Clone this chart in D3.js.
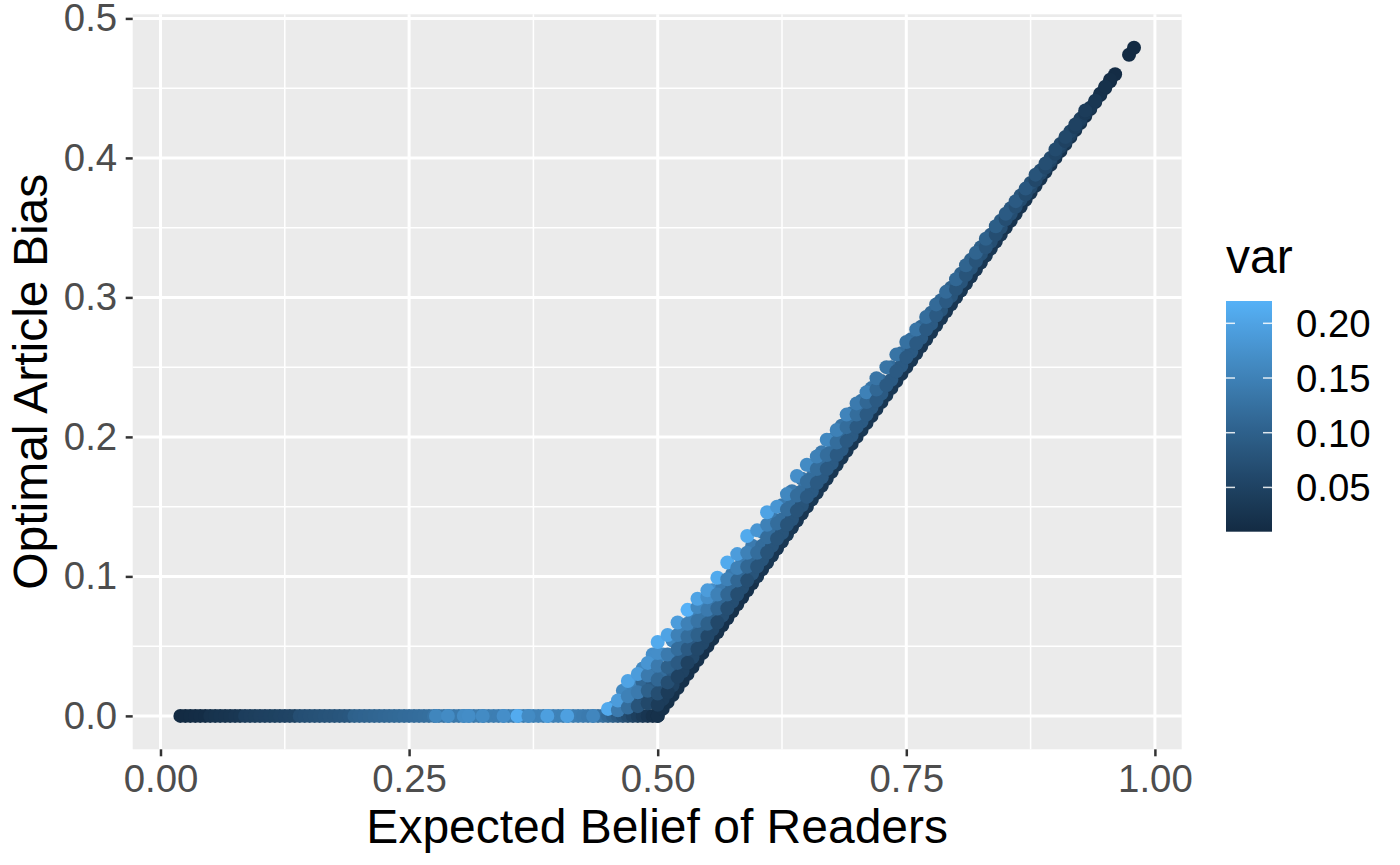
<!DOCTYPE html>
<html>
<head>
<meta charset="utf-8">
<script src="https://cdn.jsdelivr.net/npm/d3@7"></script>
<style>
  body { margin: 0; background: #ffffff; }
  svg text { font-family: "Liberation Sans", Arial, sans-serif; }
</style>
</head>
<body>
<div id="chart"></div>
<script>
// ---- data ----

// points lying on the zero line (bias = 0)
var flatBelief = [
  0.020, 0.025, 0.030, 0.035, 0.040, 0.045, 0.050, 0.055, 0.060, 0.065,
  0.070, 0.075, 0.080, 0.085, 0.090, 0.095, 0.100, 0.105, 0.110, 0.115,
  0.120, 0.125, 0.130, 0.135, 0.140, 0.145, 0.150, 0.155, 0.160, 0.165,
  0.170, 0.175, 0.180, 0.185, 0.190, 0.195, 0.200, 0.205, 0.210, 0.215,
  0.220, 0.225, 0.230, 0.235, 0.240, 0.245, 0.250, 0.255, 0.260, 0.265,
  0.270, 0.275, 0.280, 0.285, 0.290, 0.295, 0.300, 0.305, 0.310, 0.315,
  0.320, 0.325, 0.330, 0.335, 0.340, 0.345, 0.350, 0.355, 0.360, 0.365,
  0.370, 0.375, 0.380, 0.385, 0.390, 0.395, 0.400, 0.405, 0.410, 0.415,
  0.420, 0.425, 0.430, 0.435, 0.440, 0.445, 0.450, 0.455, 0.460, 0.465,
  0.470, 0.475, 0.480, 0.485, 0.490, 0.495, 0.500,
  0.277, 0.289, 0.305, 0.310, 0.324, 0.345, 0.359, 0.370, 0.389, 0.409, 0.435
];
var flatVar = [
  0.0095, 0.010, 0.011, 0.012, 0.013, 0.014, 0.022, 0.023, 0.025, 0.026,
  0.027, 0.029, 0.030, 0.042, 0.043, 0.044, 0.046, 0.047, 0.048, 0.049,
  0.051, 0.052, 0.053, 0.054, 0.070, 0.072, 0.073, 0.075, 0.076, 0.078,
  0.079, 0.080, 0.082, 0.083, 0.085, 0.100, 0.102, 0.104, 0.105, 0.107,
  0.108, 0.110, 0.111, 0.113, 0.114, 0.116, 0.117, 0.118, 0.120, 0.121,
  0.122, 0.130, 0.132, 0.134, 0.135, 0.136, 0.138, 0.139, 0.140, 0.141,
  0.142, 0.143, 0.144, 0.145, 0.146, 0.147, 0.148, 0.149, 0.150, 0.150,
  0.151, 0.151, 0.152, 0.152, 0.152, 0.152, 0.152, 0.151, 0.150, 0.148,
  0.146, 0.143, 0.140, 0.136, 0.130, 0.124, 0.112, 0.100, 0.090, 0.078,
  0.066, 0.055, 0.045, 0.036, 0.028, 0.020, 0.014,
  0.157, 0.165, 0.165, 0.168, 0.165, 0.170, 0.212, 0.165, 0.195, 0.196, 0.158
];

// lower (low variance) edge of the rising branch
var edgeBelief = [
  0.500, 0.505, 0.510, 0.515, 0.520, 0.525, 0.530, 0.535, 0.540, 0.545,
  0.550, 0.555, 0.560, 0.565, 0.570, 0.575, 0.580, 0.585, 0.590, 0.595,
  0.600, 0.605, 0.610, 0.615, 0.620, 0.625, 0.630, 0.635, 0.640, 0.645,
  0.650, 0.655, 0.660, 0.665, 0.670, 0.675, 0.680, 0.685, 0.690, 0.695,
  0.700, 0.705, 0.710, 0.715, 0.720, 0.725, 0.730, 0.735, 0.740, 0.745,
  0.750, 0.755, 0.760, 0.765, 0.770, 0.775, 0.780, 0.785, 0.790, 0.795,
  0.800, 0.805, 0.810, 0.815, 0.820, 0.825, 0.830, 0.835, 0.840, 0.845,
  0.850, 0.855, 0.860, 0.865, 0.870, 0.875, 0.880, 0.885, 0.890, 0.895,
  0.900, 0.905, 0.910, 0.915, 0.920, 0.925, 0.930, 0.935, 0.940, 0.945,
  0.950, 0.955, 0.960, 0.974, 0.979
];
var edgeBias = [
  0.000, 0.005, 0.010, 0.015, 0.020, 0.025, 0.030, 0.035, 0.040, 0.045,
  0.050, 0.055, 0.060, 0.065, 0.070, 0.075, 0.080, 0.085, 0.090, 0.095,
  0.100, 0.105, 0.110, 0.115, 0.120, 0.125, 0.130, 0.135, 0.140, 0.145,
  0.150, 0.155, 0.160, 0.165, 0.170, 0.175, 0.180, 0.185, 0.190, 0.195,
  0.200, 0.205, 0.210, 0.215, 0.220, 0.225, 0.230, 0.235, 0.240, 0.245,
  0.250, 0.255, 0.260, 0.265, 0.270, 0.275, 0.280, 0.285, 0.290, 0.295,
  0.300, 0.305, 0.310, 0.315, 0.320, 0.325, 0.330, 0.335, 0.340, 0.345,
  0.350, 0.355, 0.360, 0.365, 0.370, 0.375, 0.380, 0.385, 0.390, 0.395,
  0.400, 0.405, 0.410, 0.415, 0.420, 0.425, 0.430, 0.435, 0.440, 0.445,
  0.450, 0.455, 0.460, 0.474, 0.479
];
var edgeVar = [
  0.020, 0.020, 0.018, 0.020, 0.022, 0.020, 0.021, 0.020, 0.022, 0.020,
  0.021, 0.020, 0.022, 0.020, 0.021, 0.020, 0.022, 0.021, 0.020, 0.022,
  0.030, 0.028, 0.030, 0.031, 0.029, 0.030, 0.032, 0.030, 0.029, 0.031,
  0.030, 0.032, 0.030, 0.029, 0.031, 0.030, 0.032, 0.030, 0.029, 0.031,
  0.030, 0.032, 0.030, 0.029, 0.031, 0.030, 0.032, 0.030, 0.029, 0.031,
  0.030, 0.032, 0.030, 0.029, 0.031, 0.030, 0.032, 0.030, 0.029, 0.031,
  0.030, 0.032, 0.030, 0.029, 0.031, 0.030, 0.032, 0.030, 0.029, 0.031,
  0.025, 0.026, 0.025, 0.024, 0.025, 0.026, 0.025, 0.024, 0.025, 0.026,
  0.025, 0.024, 0.025, 0.024, 0.023, 0.022, 0.014, 0.014, 0.013, 0.014,
  0.013, 0.012, 0.012, 0.0095, 0.0095
];

// in-between columns (half steps) that fill the body of the band
var fillBelief = [
  0.455, 0.465, 0.475, 0.485, 0.495, 0.505, 0.515, 0.525, 0.535, 0.545,
  0.555, 0.565, 0.575, 0.585, 0.595, 0.605, 0.615, 0.625, 0.635, 0.645,
  0.655, 0.665, 0.675, 0.685, 0.695, 0.705, 0.715, 0.725, 0.735, 0.745,
  0.755, 0.765, 0.775, 0.785, 0.795, 0.805, 0.815, 0.825, 0.835, 0.845,
  0.855, 0.865, 0.875, 0.885, 0.895, 0.905, 0.915, 0.925, 0.935, 0.945,
  0.955
];
var fillBias = [
  [0.006], [0.008, 0.018], [0.010, 0.022], [0.012, 0.024, 0.034],
  [0.010, 0.022, 0.034, 0.044], [0.012, 0.022, 0.032, 0.044],
  [0.022, 0.032, 0.042, 0.054], [0.032, 0.042, 0.052, 0.062],
  [0.042, 0.052, 0.062, 0.072], [0.052, 0.062, 0.072, 0.080],
  [0.062, 0.072, 0.082, 0.090], [0.072, 0.082, 0.092],
  [0.082, 0.092, 0.102], [0.092, 0.102, 0.112], [0.102, 0.112, 0.122],
  [0.112, 0.122, 0.132], [0.122, 0.132, 0.142], [0.131, 0.141, 0.151],
  [0.141, 0.151, 0.161], [0.151, 0.161, 0.170], [0.161, 0.171, 0.179],
  [0.171, 0.181, 0.189], [0.181, 0.190, 0.198], [0.191, 0.200, 0.208],
  [0.201, 0.210, 0.217], [0.211, 0.219, 0.226], [0.221, 0.229, 0.235],
  [0.231, 0.240], [0.241, 0.250], [0.251, 0.260], [0.261, 0.270],
  [0.271, 0.279], [0.281, 0.289], [0.291, 0.298], [0.301, 0.307],
  [0.311, 0.317], [0.321, 0.327], [0.331, 0.336], [0.340, 0.345],
  [0.350, 0.355], [0.360, 0.364], [0.370, 0.373], [0.379, 0.382],
  [0.389, 0.391], [0.398, 0.400], [0.408, 0.410], [0.417, 0.419],
  [0.427, 0.428], [0.436], [0.446], [0.456]
];
var fillVar = [
  [0.17], [0.10, 0.16], [0.09, 0.15], [0.07, 0.11, 0.16],
  [0.05, 0.09, 0.13, 0.17], [0.04, 0.08, 0.12, 0.16],
  [0.05, 0.09, 0.12, 0.16], [0.05, 0.09, 0.12, 0.15],
  [0.06, 0.09, 0.12, 0.15], [0.06, 0.10, 0.13, 0.16],
  [0.06, 0.10, 0.14, 0.17], [0.07, 0.11, 0.14],
  [0.07, 0.11, 0.14], [0.07, 0.11, 0.14], [0.08, 0.11, 0.14],
  [0.08, 0.12, 0.15], [0.08, 0.12, 0.14], [0.08, 0.12, 0.14],
  [0.08, 0.12, 0.14], [0.08, 0.12, 0.14], [0.09, 0.12, 0.14],
  [0.09, 0.12, 0.14], [0.09, 0.12, 0.14], [0.09, 0.12, 0.13],
  [0.09, 0.12, 0.13], [0.09, 0.12, 0.13], [0.09, 0.11, 0.13],
  [0.09, 0.12], [0.09, 0.12], [0.09, 0.12], [0.09, 0.12],
  [0.09, 0.11], [0.09, 0.11], [0.08, 0.11], [0.08, 0.10],
  [0.08, 0.10], [0.08, 0.10], [0.075, 0.095], [0.07, 0.09],
  [0.07, 0.09], [0.07, 0.085], [0.065, 0.08], [0.06, 0.075],
  [0.06, 0.07], [0.055, 0.065], [0.05, 0.06], [0.045, 0.055],
  [0.04, 0.045], [0.03], [0.02], [0.015]
];

// stacked columns above the edge: one belief per column, bias/var per point
var columnBelief = [
  0.45, 0.46, 0.47, 0.48, 0.49, 0.50, 0.51, 0.52, 0.53, 0.54,
  0.55, 0.56, 0.57, 0.58, 0.59, 0.60, 0.61, 0.62, 0.63, 0.64,
  0.65, 0.66, 0.67, 0.68, 0.69, 0.70, 0.71, 0.72, 0.73, 0.74,
  0.75, 0.76, 0.77, 0.78, 0.79, 0.80, 0.81, 0.82, 0.83, 0.84,
  0.85, 0.86, 0.87, 0.88, 0.89, 0.90, 0.91, 0.92, 0.93, 0.94,
  0.95
];
var columnBias = [
  [0.005], [0.004, 0.011], [0.006, 0.014, 0.025], [0.007, 0.017, 0.030],
  [0.009, 0.018, 0.029, 0.038], [0.008, 0.016, 0.026, 0.036, 0.045, 0.053],
  [0.017, 0.024, 0.035, 0.044, 0.058], [0.028, 0.038, 0.048, 0.058, 0.067],
  [0.038, 0.048, 0.057, 0.066, 0.076], [0.048, 0.058, 0.068, 0.078, 0.084],
  [0.057, 0.066, 0.076, 0.085, 0.090], [0.067, 0.077, 0.087, 0.099],
  [0.077, 0.087, 0.098, 0.110], [0.087, 0.097, 0.106, 0.116],
  [0.097, 0.107, 0.117, 0.129], [0.107, 0.117, 0.133],
  [0.117, 0.128, 0.137, 0.146], [0.127, 0.138, 0.150],
  [0.137, 0.148, 0.159], [0.147, 0.158, 0.172],
  [0.157, 0.168, 0.180], [0.167, 0.177, 0.186],
  [0.177, 0.187, 0.198], [0.187, 0.196, 0.205],
  [0.197, 0.207, 0.216], [0.207, 0.216, 0.224],
  [0.216, 0.225, 0.232], [0.226, 0.234, 0.242],
  [0.237, 0.250], [0.247, 0.259], [0.257, 0.268], [0.267, 0.277],
  [0.277, 0.286], [0.287, 0.295], [0.297, 0.304], [0.306, 0.313],
  [0.316, 0.323], [0.326, 0.332], [0.336, 0.342], [0.345, 0.351],
  [0.356, 0.360], [0.365, 0.369], [0.374, 0.378], [0.384, 0.388],
  [0.393, 0.396], [0.403, 0.406], [0.412, 0.415], [0.422, 0.424],
  [0.432, 0.434], [0.441], [0.451]
];
var columnVar = [
  [0.21], [0.14, 0.19], [0.12, 0.15, 0.20], [0.08, 0.14, 0.19],
  [0.06, 0.10, 0.14, 0.18], [0.04, 0.07, 0.11, 0.14, 0.17, 0.21],
  [0.04, 0.07, 0.10, 0.14, 0.20], [0.05, 0.09, 0.12, 0.15, 0.19],
  [0.05, 0.09, 0.12, 0.15, 0.2204], [0.06, 0.10, 0.13, 0.16, 0.20],
  [0.06, 0.10, 0.14, 0.17, 0.19], [0.06, 0.11, 0.15, 0.21],
  [0.07, 0.11, 0.15, 0.21], [0.07, 0.11, 0.15, 0.19],
  [0.07, 0.11, 0.15, 0.21], [0.08, 0.12, 0.18],
  [0.08, 0.12, 0.15, 0.20], [0.08, 0.12, 0.18],
  [0.08, 0.12, 0.16], [0.08, 0.12, 0.17],
  [0.09, 0.12, 0.165], [0.09, 0.12, 0.15],
  [0.09, 0.12, 0.16], [0.09, 0.12, 0.15],
  [0.09, 0.12, 0.155], [0.09, 0.12, 0.14],
  [0.09, 0.11, 0.15], [0.09, 0.11, 0.13],
  [0.09, 0.13], [0.09, 0.13], [0.09, 0.125], [0.09, 0.13],
  [0.09, 0.12], [0.09, 0.115], [0.09, 0.115], [0.08, 0.11],
  [0.08, 0.105], [0.08, 0.105], [0.08, 0.10], [0.07, 0.095],
  [0.07, 0.09], [0.07, 0.09], [0.065, 0.085], [0.06, 0.08],
  [0.06, 0.07], [0.055, 0.065], [0.05, 0.06], [0.045, 0.05],
  [0.035, 0.04], [0.03], [0.02]
];

var xTicks = [0, 0.25, 0.5, 0.75, 1];
var xMinor = [0.125, 0.375, 0.625, 0.875];
var yTicks = [0, 0.1, 0.2, 0.3, 0.4, 0.5];
var yMinor = [0.05, 0.15, 0.25, 0.35, 0.45];
var legendTicks = [0.05, 0.10, 0.15, 0.20];

// ---- build the point table (drawing order = table order) ----
var points = [];
flatBelief.forEach(function(b, i) {
  points.push({ belief: b, bias: 0, v: flatVar[i] });
});
edgeBelief.forEach(function(b, i) {
  points.push({ belief: b, bias: edgeBias[i], v: edgeVar[i] });
});
fillBelief.forEach(function(b, i) {
  fillBias[i].forEach(function(y, j) {
    points.push({ belief: b, bias: y, v: fillVar[i][j] });
  });
});
columnBelief.forEach(function(b, i) {
  columnBias[i].forEach(function(y, j) {
    points.push({ belief: b, bias: y, v: columnVar[i][j] });
  });
});

// ---- layout ----
var W = 1400, H = 865;
var panel = { left: 132.7, right: 1181.7, top: 14.3, bottom: 749.3 };

var svg = d3.select("#chart").append("svg")
  .attr("width", W)
  .attr("height", H);

// ggplot-like 5% expansion of the data range
function expand(ext) {
  var pad = (ext[1] - ext[0]) * 0.05;
  return [ext[0] - pad, ext[1] + pad];
}

var xScale = d3.scaleLinear()
  .domain(expand(d3.extent(points, function(d) { return d.belief; })))
  .range([panel.left, panel.right]);

var yScale = d3.scaleLinear()
  .domain(expand(d3.extent(points, function(d) { return d.bias; })))
  .range([panel.bottom, panel.top]);

var varExtent = d3.extent(points, function(d) { return d.v; });
var colour = d3.scaleLinear()
  .domain(varExtent)
  .range(["#132B43", "#56B1F7"])
  .interpolate(d3.interpolateLab);

// panel background
svg.append("rect")
  .attr("x", panel.left)
  .attr("y", panel.top)
  .attr("width", panel.right - panel.left)
  .attr("height", panel.bottom - panel.top)
  .attr("fill", "#EBEBEB");

// grid lines
var grid = svg.append("g").attr("class", "grid");
grid.selectAll(".xminor").data(xMinor).enter().append("line")
  .attr("x1", xScale).attr("x2", xScale)
  .attr("y1", panel.top).attr("y2", panel.bottom)
  .attr("stroke", "#fff").attr("stroke-width", 1.5);
grid.selectAll(".yminor").data(yMinor).enter().append("line")
  .attr("y1", yScale).attr("y2", yScale)
  .attr("x1", panel.left).attr("x2", panel.right)
  .attr("stroke", "#fff").attr("stroke-width", 1.5);
grid.selectAll(".xmajor").data(xTicks).enter().append("line")
  .attr("x1", xScale).attr("x2", xScale)
  .attr("y1", panel.top).attr("y2", panel.bottom)
  .attr("stroke", "#fff").attr("stroke-width", 3);
grid.selectAll(".ymajor").data(yTicks).enter().append("line")
  .attr("y1", yScale).attr("y2", yScale)
  .attr("x1", panel.left).attr("x2", panel.right)
  .attr("stroke", "#fff").attr("stroke-width", 3);

// points
svg.append("g").selectAll("circle")
  .data(points)
  .enter().append("circle")
  .attr("cx", function(d) { return xScale(d.belief); })
  .attr("cy", function(d) { return yScale(d.bias); })
  .attr("r", 7)
  .attr("fill", function(d) { return colour(d.v); });

// axes
var xAxis = d3.axisBottom(xScale)
  .tickValues(xTicks)
  .tickFormat(d3.format(".2f"))
  .tickSize(7)
  .tickPadding(8.5);

var gx = svg.append("g")
  .attr("class", "axis x-axis")
  .attr("transform", "translate(0," + panel.bottom + ")")
  .call(xAxis);
gx.select(".domain").remove();

var yAxis = d3.axisLeft(yScale)
  .tickValues(yTicks)
  .tickFormat(d3.format(".1f"))
  .tickSize(7)
  .tickPadding(8.5);

var gy = svg.append("g")
  .attr("class", "axis y-axis")
  .attr("transform", "translate(" + panel.left + ",0)")
  .call(yAxis);
gy.select(".domain").remove();

svg.selectAll(".axis line")
  .attr("stroke", "#333333")
  .attr("stroke-width", 2.5);
svg.selectAll(".axis text")
  .attr("fill", "#4D4D4D")
  .style("font-size", "38.4px")
  .style("font-family", "'Liberation Sans', Arial, sans-serif");

// axis titles
svg.append("text")
  .attr("x", (panel.left + panel.right) / 2)
  .attr("y", 843)
  .attr("text-anchor", "middle")
  .style("font-size", "48px")
  .attr("fill", "#000")
  .text("Expected Belief of Readers");

svg.append("text")
  .attr("transform", "translate(47," + ((panel.top + panel.bottom) / 2) + ") rotate(-90)")
  .attr("text-anchor", "middle")
  .style("font-size", "48px")
  .attr("fill", "#000")
  .text("Optimal Article Bias");

// ---- colour bar legend ----
var bar = { x: 1226, y: 301, w: 46, h: 230.7 };
var legendScale = d3.scaleLinear()
  .domain(varExtent)
  .range([bar.y + bar.h, bar.y]);

var grad = svg.append("defs").append("linearGradient")
  .attr("id", "vargrad")
  .attr("x1", 0).attr("y1", 1).attr("x2", 0).attr("y2", 0);
d3.range(0, 1.0001, 0.05).forEach(function(t) {
  grad.append("stop")
    .attr("offset", t)
    .attr("stop-color", colour(varExtent[0] + t * (varExtent[1] - varExtent[0])));
});

svg.append("text")
  .attr("x", bar.x)
  .attr("y", 273)
  .style("font-size", "48px")
  .attr("fill", "#000")
  .text("var");

svg.append("rect")
  .attr("x", bar.x).attr("y", bar.y)
  .attr("width", bar.w).attr("height", bar.h)
  .attr("fill", "url(#vargrad)");

var lt = svg.append("g").attr("class", "legend-ticks");
lt.selectAll(".tl").data(legendTicks).enter().append("line")
  .attr("x1", bar.x).attr("x2", bar.x + 9)
  .attr("y1", legendScale).attr("y2", legendScale)
  .attr("stroke", "#fff").attr("stroke-opacity", 0.85).attr("stroke-width", 1.5);
lt.selectAll(".tr").data(legendTicks).enter().append("line")
  .attr("x1", bar.x + bar.w - 9).attr("x2", bar.x + bar.w)
  .attr("y1", legendScale).attr("y2", legendScale)
  .attr("stroke", "#fff").attr("stroke-opacity", 0.85).attr("stroke-width", 1.5);
lt.selectAll("text").data(legendTicks).enter().append("text")
  .attr("x", 1296)
  .attr("y", legendScale)
  .attr("dy", "0.36em")
  .style("font-size", "38.4px")
  .attr("fill", "#000")
  .text(d3.format(".2f"));
</script>
</body>
</html>
